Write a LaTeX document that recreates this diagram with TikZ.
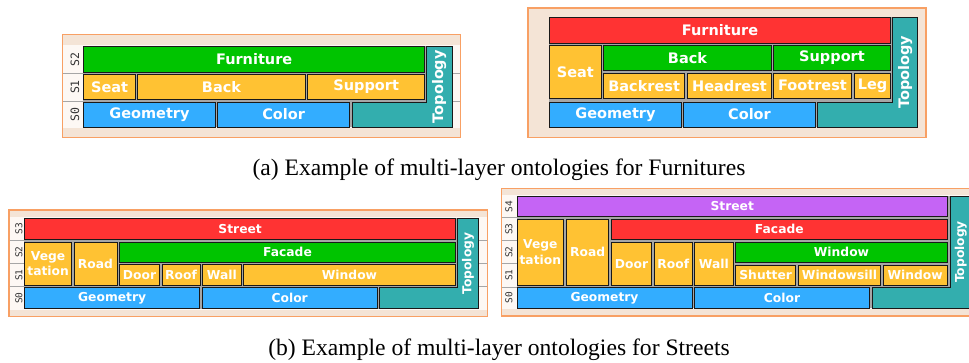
\documentclass[tikz,border=0pt]{standalone}
\usepackage{fontspec}
\setmainfont{Liberation Serif}
\newfontfamily\ontfont{DejaVu Sans}
\newfontfamily\layerfont{DejaVu Sans Mono}
\usepackage{tikz}
% one ontology box: name, x1, y1, x2, y2, style, text
\newcommand\obox[7]{\node[ontbox,#6,minimum width={#4-#2-0.8},minimum height={#5-#3-0.8}] (#1) at ({#2+0.4},{#3+0.4}) {#7};}

\begin{document}
\begin{tikzpicture}[x=1pt,y=-1pt,
	ontbox/.style={draw=black!90, line width=0.8pt, inner sep=0, outer sep=0, anchor=north west, text=white, align=center},
	big/.style={font=\ontfont\bfseries\fontsize{14.5}{17}\selectfont},
	small/.style={font=\ontfont\bfseries\fontsize{12.3}{15.5}\selectfont},
	layer/.style={rotate=90, inner sep=0, text=black!80},
	panel/.style={fill=panelbeige, draw=panelorange, line width=1.2pt},
	caption/.style={anchor=base, inner sep=0, font=\fontsize{23.6}{28}\selectfont}]
	\definecolor{ontgreen}{RGB}{0, 196, 0}
	\definecolor{ontyellow}{RGB}{255, 194, 51}
	\definecolor{ontblue}{RGB}{51, 173, 255}
	\definecolor{ontred}{RGB}{255, 51, 51}
	\definecolor{ontpurple}{RGB}{197, 100, 245}
	\definecolor{ontteal}{RGB}{51, 174, 174}
	\definecolor{panelbeige}{RGB}{244, 228, 214}
	\definecolor{panellight}{RGB}{253, 248, 244}
	\definecolor{panelorange}{RGB}{248, 160, 100}
	\useasboundingbox (0,0) rectangle (969,362);
	\fill[white] (0,0) rectangle (969,362);

	% (a) left: layers S0-S2
	\draw[panel] (62.3,34.7) rectangle (460.7,137.3);
	\fill[panellight] (62.9,45) rectangle (460.1,127.5);
	\draw[gray!70, line width=0.6pt] (62.9,73.3) -- (460.1,73.3);
	\draw[gray!70, line width=0.6pt] (62.9,100.8) -- (460.1,100.8);
	\fill[gray!70] (83.3,46) rectangle (452.3,127.3);
	\obox{furnA}{83.3}{46}{425}{72.7}{fill=ontgreen,big}{Furniture}
	\obox{seatA}{83.3}{74}{136}{100}{fill=ontyellow,big}{Seat}
	\obox{backA}{137.3}{74}{305.7}{100}{fill=ontyellow,big}{Back}
	\obox{suppA}{307.3}{74}{425}{100}{fill=ontyellow,big}{Support}
	\obox{geomA}{83.3}{101.7}{215.7}{127.3}{fill=ontblue,big}{Geometry}
	\obox{colA}{217.3}{101.7}{350}{127.3}{fill=ontblue,big}{Color}
	\draw[ontbox, fill=ontteal] (426.4,46.4) -- (451.9,46.4) -- (451.9,126.9) -- (352.1,126.9) -- (352.1,102.1) -- (426.4,102.1) -- cycle;
	\node[big, rotate=90, text=white, inner sep=0] (topoA) at (439.2,86.7) {Topology};
	\node[layer, font=\layerfont\fontsize{11.5}{11.5}\selectfont] (sa2) at (75,59.3) {S2};
	\node[layer, font=\layerfont\fontsize{11.5}{11.5}\selectfont] (sa1) at (75,87) {S1};
	\node[layer, font=\layerfont\fontsize{11.5}{11.5}\selectfont] (sa0) at (75,114.5) {S0};

	% (a) right: no layer labels
	\draw[panel] (528,8) rectangle (926,137.7);
	\fill[gray!70] (549.3,17.3) rectangle (918,127.3);
	\obox{furnB}{549.3}{17.3}{890.7}{43.3}{fill=ontred,big}{Furniture}
	\obox{seatB}{549.3}{45.3}{601.3}{98.3}{fill=ontyellow,big}{Seat}
	\obox{backB}{603.3}{45.3}{771.7}{70.7}{fill=ontgreen,big}{Back}
	\obox{suppB}{773.3}{45.3}{890.7}{70.7}{fill=ontgreen,big}{Support}
	\obox{backrestB}{603.3}{73}{685}{98.3}{fill=ontyellow,big}{Backrest}
	\obox{headrestB}{687.3}{73}{771.7}{98.3}{fill=ontyellow,big}{Headrest}
	\obox{footrestB}{773.3}{73}{851.7}{98.3}{fill=ontyellow,big}{Footrest}
	\obox{legB}{854.3}{73}{890.7}{98.3}{fill=ontyellow,big}{Leg}
	\obox{geomB}{549.3}{101.7}{681.7}{127.3}{fill=ontblue,big}{Geometry}
	\obox{colB}{683.3}{101.7}{815.7}{127.3}{fill=ontblue,big}{Color}
	\draw[ontbox, fill=ontteal] (892.7,17.7) -- (917.6,17.7) -- (917.6,126.9) -- (817.7,126.9) -- (817.7,102.1) -- (892.7,102.1) -- cycle;
	\node[big, rotate=90, text=white, inner sep=0] (topoB) at (905.2,72.3) {Topology};

	\node[caption] (capA) at (499,175.5) {(a) Example of multi-layer ontologies for Furnitures};

	% (b) left: layers S0-S3
	\draw[panel] (9,210) rectangle (487.3,316.7);
	\fill[panellight] (9.6,217.3) rectangle (486.7,309.7);
	\draw[gray!70, line width=0.6pt] (9.6,240.5) -- (486.7,240.5);
	\draw[gray!70, line width=0.6pt] (9.6,263.5) -- (486.7,263.5);
	\draw[gray!70, line width=0.6pt] (9.6,286.5) -- (486.7,286.5);
	\fill[gray!70] (24.3,218.3) rectangle (478.7,308.7);
	\obox{streetC}{24.3}{218.3}{456}{239.3}{fill=ontred,small}{Street}
	\obox{vegC}{24.3}{241.7}{72}{285.7}{fill=ontyellow,small}{Vege\\tation}
	\obox{roadC}{73.7}{241.7}{117.3}{285.7}{fill=ontyellow,small}{Road}
	\obox{facC}{119}{241.7}{456}{262.7}{fill=ontgreen,small}{Facade}
	\obox{doorC}{119}{264.3}{160}{285.7}{fill=ontyellow,small}{Door}
	\obox{roofC}{161.7}{264.3}{200.3}{285.7}{fill=ontyellow,small}{Roof}
	\obox{wallC}{202.3}{264.3}{241.3}{285.7}{fill=ontyellow,small}{Wall}
	\obox{winC}{243}{264.3}{456}{285.7}{fill=ontyellow,small}{Window}
	\obox{geomC}{24.3}{287.3}{200}{308.7}{fill=ontblue,small}{Geometry}
	\obox{colC}{201.7}{287.3}{377.7}{308.7}{fill=ontblue,small}{Color}
	\draw[ontbox, fill=ontteal] (457.7,218.7) -- (478.3,218.7) -- (478.3,308.3) -- (379.7,308.3) -- (379.7,287.7) -- (457.7,287.7) -- cycle;
	\node[small, rotate=90, text=white, inner sep=0] (topoC) at (468,263.5) {Topology};
	\node[layer, font=\layerfont\fontsize{9.5}{9.5}\selectfont] (sc3) at (19,228.8) {S3};
	\node[layer, font=\layerfont\fontsize{9.5}{9.5}\selectfont] (sc2) at (19,252.2) {S2};
	\node[layer, font=\layerfont\fontsize{9.5}{9.5}\selectfont] (sc1) at (19,275) {S1};
	\node[layer, font=\layerfont\fontsize{9.5}{9.5}\selectfont] (sc0) at (19,298) {S0};

	% (b) right: layers S0-S4, cut at the right edge
	\draw[panel] (501.7,188.5) rectangle (985,316);
	\fill[panellight] (502.3,195) rectangle (984,309.3);
	\draw[gray!70, line width=0.6pt] (502.3,217.7) -- (984,217.7);
	\draw[gray!70, line width=0.6pt] (502.3,240.5) -- (984,240.5);
	\draw[gray!70, line width=0.6pt] (502.3,263.5) -- (984,263.5);
	\draw[gray!70, line width=0.6pt] (502.3,286.8) -- (984,286.8);
	\fill[gray!70] (516.7,196) rectangle (971.4,308.3);
	\obox{streetD}{516.7}{196}{947.7}{216.7}{fill=ontpurple,small}{Street}
	\obox{vegD}{516.7}{218.7}{564}{285.7}{fill=ontyellow,small}{Vege\\tation}
	\obox{roadD}{566.3}{218.7}{609}{285.7}{fill=ontyellow,small}{Road}
	\obox{facD}{611}{218.7}{947.7}{239.3}{fill=ontred,small}{Facade}
	\obox{doorD}{611}{241.7}{652}{285.7}{fill=ontyellow,small}{Door}
	\obox{roofD}{654.3}{241.7}{692.3}{285.7}{fill=ontyellow,small}{Roof}
	\obox{wallD}{694.3}{241.7}{733.3}{285.7}{fill=ontyellow,small}{Wall}
	\obox{winD}{735.3}{241.7}{947.7}{262.3}{fill=ontgreen,small}{Window}
	\obox{shutD}{735.3}{264.7}{796}{285.7}{fill=ontyellow,small}{Shutter}
	\obox{sillD}{798.3}{264.7}{880.7}{285.7}{fill=ontyellow,small}{Windowsill}
	\obox{win2D}{882.7}{264.7}{947.7}{285.7}{fill=ontyellow,small}{Window}
	\obox{geomD}{516.7}{287.3}{692.3}{308.3}{fill=ontblue,small}{Geometry}
	\obox{colD}{694}{287.3}{870}{308.3}{fill=ontblue,small}{Color}
	\draw[ontbox, fill=ontteal] (950.4,196.4) -- (971,196.4) -- (971,307.9) -- (872.1,307.9) -- (872.1,287.7) -- (950.4,287.7) -- cycle;
	\node[small, rotate=90, text=white, inner sep=0] (topoD) at (960.7,252) {Topology};
	\node[layer, font=\layerfont\fontsize{9.5}{9.5}\selectfont] (sd4) at (509,206.3) {S4};
	\node[layer, font=\layerfont\fontsize{9.5}{9.5}\selectfont] (sd3) at (509,229) {S3};
	\node[layer, font=\layerfont\fontsize{9.5}{9.5}\selectfont] (sd2) at (509,252) {S2};
	\node[layer, font=\layerfont\fontsize{9.5}{9.5}\selectfont] (sd1) at (509,275.2) {S1};
	\node[layer, font=\layerfont\fontsize{9.5}{9.5}\selectfont] (sd0) at (509,297.8) {S0};

	\node[caption] (capB) at (499,355) {(b) Example of multi-layer ontologies for Streets};
\end{tikzpicture}
\end{document}
